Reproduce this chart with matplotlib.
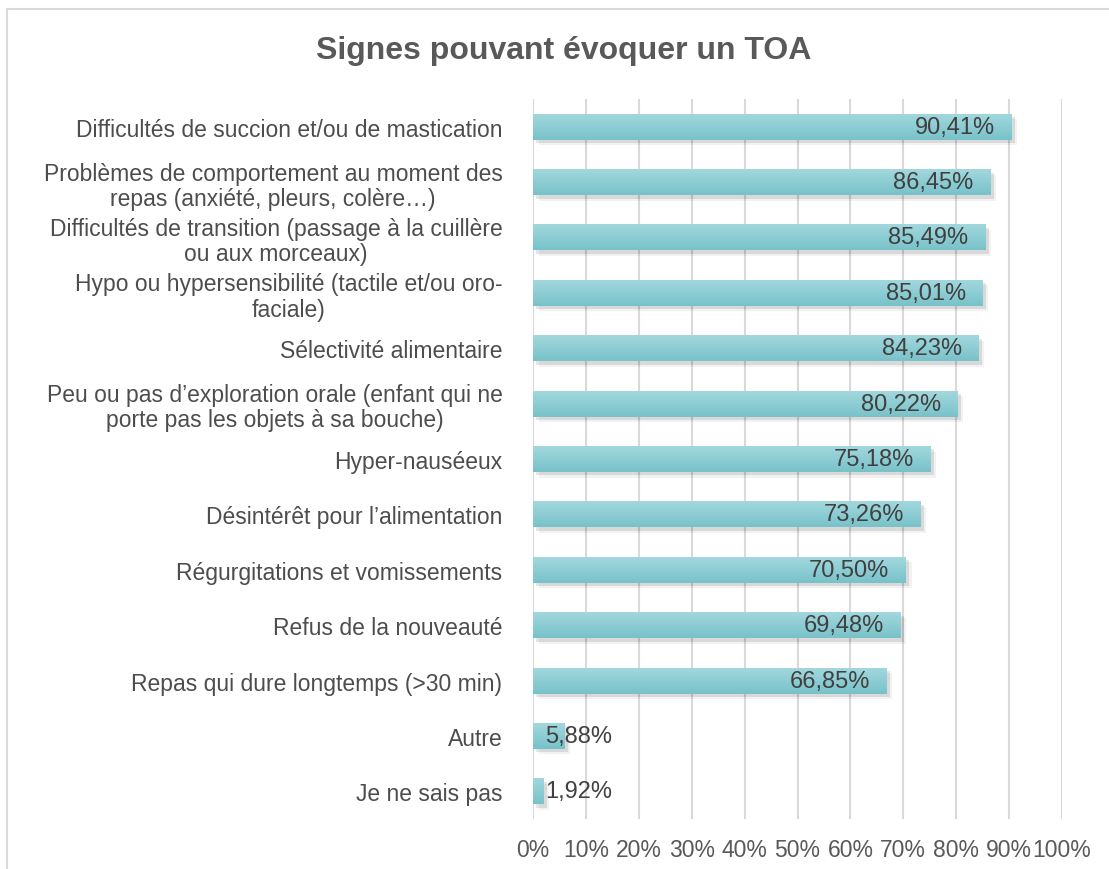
import matplotlib
matplotlib.use("Agg")
import matplotlib.pyplot as plt
import matplotlib.patheffects as pe
from matplotlib.patches import Rectangle
import numpy as np

categories = [
    "Difficultés de succion et/ou de mastication",
    "Problèmes de comportement au moment des\nrepas (anxiété, pleurs, colère…)",
    "Difficultés de transition (passage à la cuillère\nou aux morceaux)",
    "Hypo ou hypersensibilité (tactile et/ou oro-\nfaciale)",
    "Sélectivité alimentaire",
    "Peu ou pas d’exploration orale (enfant qui ne\nporte pas les objets à sa bouche)",
    "Hyper-nauséeux",
    "Désintérêt pour l’alimentation",
    "Régurgitations et vomissements",
    "Refus de la nouveauté",
    "Repas qui dure longtemps (>30 min)",
    "Autre",
    "Je ne sais pas",
]
values = [90.41, 86.45, 85.49, 85.01, 84.23, 80.22, 75.18, 73.26, 70.50, 69.48, 66.85, 5.88, 1.92]
value_labels = ["90,41%", "86,45%", "85,49%", "85,01%", "84,23%", "80,22%", "75,18%",
                "73,26%", "70,50%", "69,48%", "66,85%", "5,88%", "1,92%"]
xticks = [0, 10, 20, 30, 40, 50, 60, 70, 80, 90, 100]
xtick_labels = [f"{t}%" for t in xticks]
title = "Signes pouvant évoquer un TOA"

plt.rcParams['font.family'] = ['Liberation Sans', 'DejaVu Sans']

W, H = 1109, 870
fig = plt.figure(figsize=(W / 100, H / 100), dpi=100)
fig.patch.set_facecolor("white")

# outer chart border (cut at right/bottom)
fig.add_artist(Rectangle((7 / W, -0.05), 1.2, 0.05 + (H - 10) / H, transform=fig.transFigure,
                         fill=False, edgecolor="#d9d9d9", linewidth=1.5))

ax = fig.add_axes([533 / W, 1 - 820 / H, (1062 - 533) / W, (820 - 100) / H])
n = len(categories)
ypos = np.arange(n)
ax.set_xlim(0, 100)
ax.set_ylim(n - 0.5, -0.5)

ax.set_xticks(xticks)
ax.set_xticklabels(xtick_labels)
ax.grid(axis="x", color="#d9d9d9", linewidth=1.5)
ax.set_axisbelow(True)
for s in ax.spines.values():
    s.set_visible(False)
ax.tick_params(axis="both", length=0)
ax.tick_params(axis="x", labelsize=16.5, labelcolor="#595959", pad=14)
ax.set_yticks(ypos)
ax.tick_params(axis="y", labelsize=16.5, labelcolor="#4d4d4d", pad=22)
ax.set_yticklabels(categories, multialignment="center", linespacing=1.12)

bar_h = 0.47
bars = ax.barh(ypos, values, height=bar_h, color="#8fd0d7", zorder=2,
               path_effects=[pe.SimplePatchShadow(offset=(4, -4), shadow_rgbFace="#000000", alpha=0.05),
                             pe.SimplePatchShadow(offset=(2.5, -2.5), shadow_rgbFace="#000000", alpha=0.10),
                             pe.Normal()])

# vertical gradient overlay
grad = np.linspace(0, 1, 64).reshape(-1, 1)
c_top = np.array([0.64, 0.85, 0.87])
c_bot = np.array([0.47, 0.76, 0.79])
img = c_top[None, None, :] * (1 - grad[:, :, None]) + c_bot[None, None, :] * grad[:, :, None]
for b in bars:
    x0, y0 = b.get_x(), b.get_y()
    w, h = b.get_width(), b.get_height()
    im = ax.imshow(img, extent=(x0, x0 + w, y0 + h, y0), aspect="auto", zorder=3,
                   interpolation="bilinear")
    im.set_clip_path(b)
ax.set_xlim(0, 100)
ax.set_ylim(n - 0.5, -0.5)

for y, v, lab in zip(ypos, values, value_labels):
    if v > 20:
        ax.annotate(lab, xy=(v, y), xytext=(-12, 0), textcoords="offset points",
                    ha="right", va="center", fontsize=17, color="#404040", zorder=5)
    else:
        ax.annotate(lab, xy=(0, y), xytext=(9, 0), textcoords="offset points",
                    ha="left", va="center", fontsize=17, color="#404040", zorder=5)

fig.text(564 / W, 1 - 51 / H, title, ha="center", va="center",
         fontsize=23, fontweight="bold", color="#595959")

fig.savefig("out.png", dpi=100, facecolor="white")
